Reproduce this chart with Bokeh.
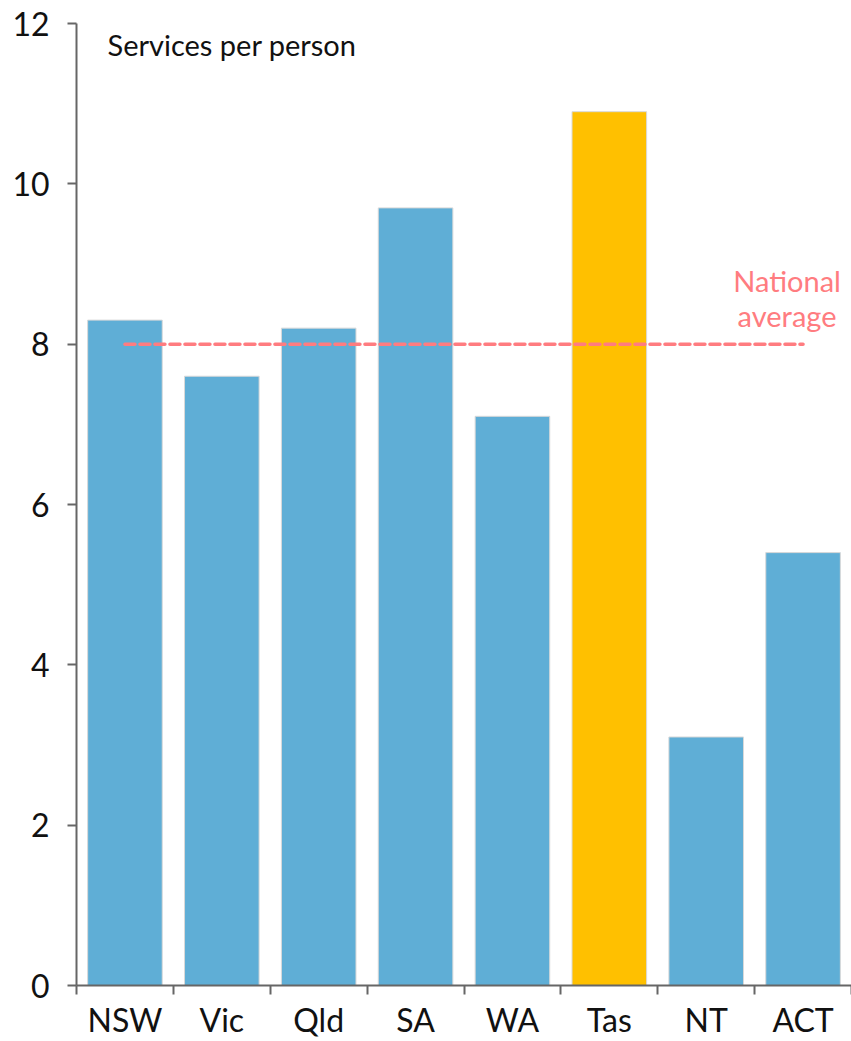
from bokeh.plotting import figure
from bokeh.models import Range1d, FixedTicker, Label, ColumnDataSource
from bokeh.core.properties import value
from bokeh.embed import file_html
from bokeh.resources import INLINE

states = ["NSW", "Vic", "Qld", "SA", "WA", "Tas", "NT", "ACT"]
services = [8.3, 7.6, 8.2, 9.7, 7.1, 10.9, 3.1, 5.4]
highlight = "Tas"
national_avg = 8.0
y_ticks = [0, 2, 4, 6, 8, 10, 12]

FONT = "Lato"
BLUE = "#5FAED6"
GOLD = "#FFC000"
PINK = "#FF7C80"
AXIS = "#666666"

n = len(states)
x_pos = [i + 0.5 for i in range(n)]  # category centres on a 0..n axis
colors = [GOLD if s == highlight else BLUE for s in states]
src = ColumnDataSource(dict(x=x_pos, top=services, color=colors, name=states))

p = figure(width=851, height=1041, x_range=Range1d(0, n), y_range=Range1d(0, 12),
           output_backend="svg", toolbar_location=None,
           min_border_left=76, min_border_right=0, min_border_top=23, min_border_bottom=56)
p.outline_line_color = None
p.xgrid.grid_line_color = None
p.ygrid.grid_line_color = None

p.vbar(x="x", top="top", width=0.77, source=src, fill_color="color",
       line_color="#D9D9D9", line_width=1)

# national average dashed line from first to last category centre
p.line(x=[x_pos[0], x_pos[-1]], y=[national_avg, national_avg], line_color=PINK,
       line_width=3.5, line_dash="10 5", line_cap="round")
p.text(x=[x_pos[-1]], y=[national_avg], text=["National\naverage"], x_offset=-16, y_offset=-11,
       text_align="center", text_baseline="bottom", text_color=PINK,
       text_font=value(FONT), text_font_size="29px", text_line_height=1.0)

# y axis
ya = p.yaxis[0]
ya.ticker = FixedTicker(ticks=y_ticks)
ya.axis_line_color = AXIS
ya.axis_line_width = 2
ya.major_tick_line_color = AXIS
ya.major_tick_line_width = 2
ya.major_tick_out = 9
ya.major_tick_in = 0
ya.minor_tick_line_color = None
ya.major_label_text_font = FONT
ya.major_label_text_font_size = "32px"
ya.major_label_text_color = "#111111"
ya.major_label_standoff = 18

# x axis: labels at category centres, tick marks at category boundaries
xa = p.xaxis[0]
xa.ticker = FixedTicker(ticks=x_pos, minor_ticks=list(range(n + 1)))
xa.major_label_overrides = {x: s for x, s in zip(x_pos, states)}
xa.axis_line_color = AXIS
xa.axis_line_width = 2
xa.major_tick_line_color = None
xa.major_tick_out = 0
xa.major_tick_in = 0
xa.minor_tick_line_color = AXIS
xa.minor_tick_line_width = 2
xa.minor_tick_out = 9
xa.minor_tick_in = 0
xa.major_label_text_font = FONT
xa.major_label_text_font_size = "32px"
xa.major_label_text_color = "#111111"
xa.major_label_standoff = 5

p.add_layout(Label(x=0.32, y=11.74, text="Services per person", text_font=FONT,
                   text_font_size="29px", text_color="#111111", text_baseline="middle"))

open("out.html", "w").write(file_html(p, INLINE))
